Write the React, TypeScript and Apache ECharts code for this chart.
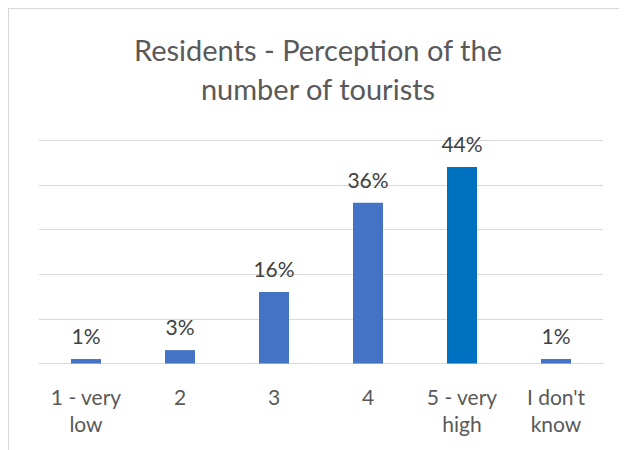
import React, { useEffect, useRef } from "react";
import * as echarts from "echarts";

const categories = ["1 - very\nlow", "2", "3", "4", "5 - very\nhigh", "I don't\nknow"];
const values = [1, 3, 16, 36, 44, 1];
const barColors = ["#4472C4", "#4472C4", "#4472C4", "#4472C4", "#0070C0", "#4472C4"];
const titleText = "Residents - Perception of the\nnumber of tourists";

const FONT = "Lato, 'Open Sans', sans-serif";

export default function App() {
  const ref = useRef<HTMLDivElement>(null);
  useEffect(() => {
    if (!ref.current) return;
    const chart = echarts.init(ref.current, undefined, { renderer: "svg" });
    chart.setOption({
      animation: false,
      backgroundColor: "#ffffff",
      title: {
        text: titleText,
        left: "center",
        top: 16,
        textStyle: {
          fontFamily: FONT,
          fontSize: 29,
          fontWeight: "normal",
          color: "#595959",
          lineHeight: 39,
        },
      },
      grid: {
        left: 30,
        right: 24,
        top: 131.3,
        bottom: 86.5,
        containLabel: false,
        outerBoundsMode: "none",
      },
      xAxis: {
        type: "category",
        data: categories,
        axisLine: { show: true, lineStyle: { color: "#d9d9d9", width: 1 } },
        axisTick: { show: false },
        axisLabel: {
          color: "#595959",
          fontFamily: FONT,
          fontSize: 21,
          lineHeight: 27,
          margin: 19,
          interval: 0,
        },
      },
      yAxis: {
        type: "value",
        min: 0,
        max: 50,
        interval: 10,
        axisLine: { show: false },
        axisTick: { show: false },
        axisLabel: { show: false },
        splitLine: { show: true, lineStyle: { color: "#d9d9d9", width: 1 } },
      },
      series: [
        {
          type: "bar",
          data: values.map((v, i) => ({ value: v, itemStyle: { color: barColors[i] } })),
          barWidth: 30,
          label: {
            show: true,
            position: "top",
            distance: 13,
            formatter: "{c}%",
            color: "#404040",
            fontFamily: FONT,
            fontSize: 21,
          },
        },
      ],
    });
    return () => chart.dispose();
  }, []);
  return (
    <div
      ref={ref}
      style={{
        width: 619,
        height: 442,
        boxSizing: "border-box",
        borderTop: "1px solid #d9d9d9",
        borderLeft: "1px solid #d9d9d9",
      }}
    />
  );
}
